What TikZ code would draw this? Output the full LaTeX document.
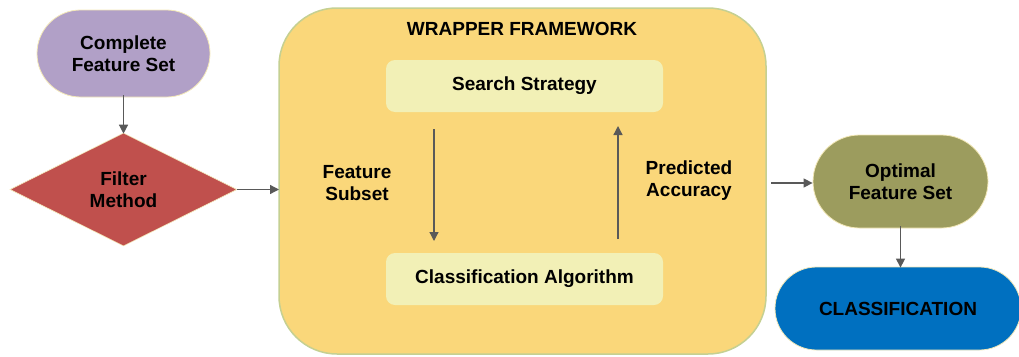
\documentclass[tikz,border=0pt]{standalone}
\usepackage{fontspec}
\setmainfont{Liberation Sans}
\usetikzlibrary{shapes.geometric,arrows.meta}
\definecolor{cpurple}{HTML}{B1A0C7}
\definecolor{cred}{HTML}{C0504D}
\definecolor{cwrap}{HTML}{FAD77A}
\definecolor{cwrapedge}{HTML}{C5D092}
\definecolor{cinner}{HTML}{F2F0B6}
\definecolor{colive}{HTML}{9C9C5E}
\definecolor{cblue}{HTML}{0070C0}
\definecolor{cedge}{HTML}{F3E8B8}
\definecolor{carrow}{HTML}{595959}
\tikzset{
  lbl/.style={font=\fontsize{19}{22}\selectfont\bfseries, align=center, text=black},
  stadium/.style={lbl, draw=cedge, line width=0.8pt, inner sep=0pt},
  innerbox/.style={lbl, fill=cinner, draw=none, rounded corners=9pt, minimum width=277pt, minimum height=52pt, inner sep=0pt},
  conn/.style={draw=carrow, line width=1.3pt, -{Triangle[length=9pt,width=9pt]}},
}
\begin{document}
\begin{tikzpicture}[x=1pt,y=-1pt]
\useasboundingbox (0,0) rectangle (1019,356);
% wrapper
\draw[fill=cwrap, draw=cwrapedge, line width=1.5pt, rounded corners=58pt] (279,8) rectangle (766,354);
\node[lbl] (wt) at (522,29) {WRAPPER FRAMEWORK};
\node[innerbox] (ss) at (524.5,86) {Search Strategy};
\node[innerbox] (ca) at (524.5,279) {Classification Algorithm};
\node[lbl] (fs) at (357,183) {Feature\\Subset};
\node[lbl] (pa) at (689,181) {Predicted\\Accuracy};
% left
\node[stadium, fill=cpurple, minimum width=173pt, minimum height=87pt, rounded corners=43.5pt] (cfs) at (123.5,53.5) {Complete\\Feature Set};
\node[lbl, shape=diamond, fill=cred, draw=cedge, line width=0.6pt, inner sep=0pt, aspect=2, minimum width=227pt, minimum height=113pt] (fm) at (123.5,189.5) {Filter\\Method};
% right
\node[stadium, fill=colive, minimum width=175pt, minimum height=93pt, rounded corners=46.5pt] (ofs) at (900.5,181.5) {Optimal\\Feature Set};
\node[stadium, fill=cblue, minimum width=246pt, minimum height=83pt, rounded corners=41.5pt] (cl) at (898,308.5) {CLASSIFICATION};
% connectors
\coordinate (wl) at (279,189);
\coordinate (wr) at (771,183);
\coordinate (ad1) at (434,129);
\coordinate (ad2) at (434,241);
\coordinate (au1) at (618,239);
\coordinate (au2) at (618,126);
\draw[conn] ([yshift=2pt]cfs.south) -- ([yshift=-1pt]fm.north);
\draw[conn] (fm.east) -- (fm.east -| wl);
\draw[conn] (ad1) -- (ad2);
\draw[conn] (au1) -- (au2);
\draw[conn] (wr) -- (wr -| ofs.west);
\draw[conn] ([yshift=2pt]ofs.south) -- ([yshift=-1pt]ofs.south |- cl.north);
\end{tikzpicture}
\end{document}
